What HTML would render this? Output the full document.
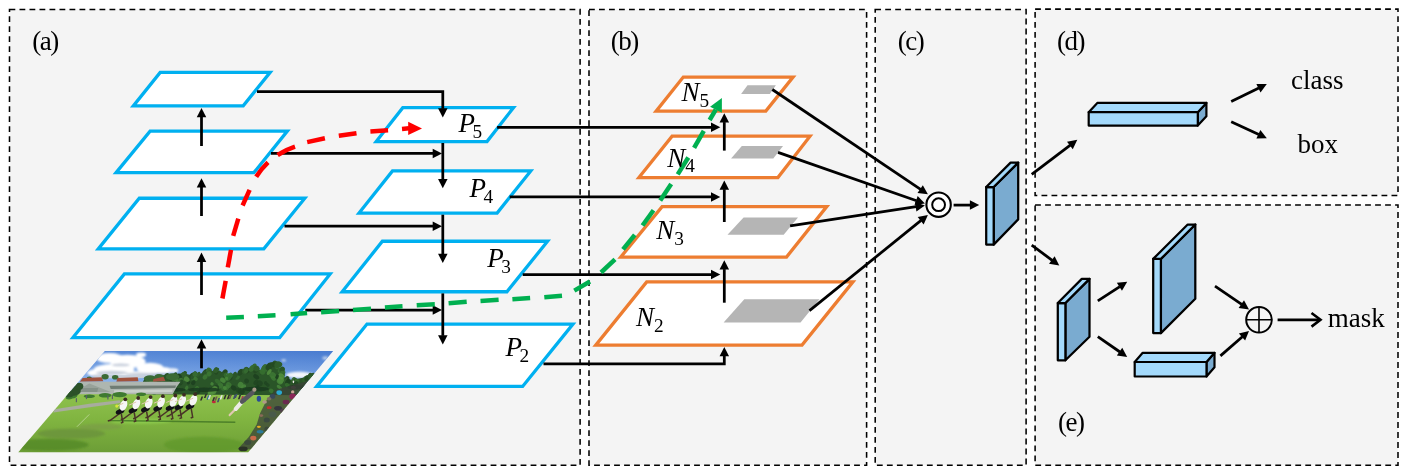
<!DOCTYPE html>
<html><head><meta charset="utf-8"><title>PANet</title>
<style>html,body{margin:0;padding:0;background:#fff}svg{display:block;will-change:transform}text{font-family:"Liberation Serif",serif;fill:#000}</style>
</head><body>
<svg width="1411" height="475" viewBox="0 0 1411 475">
<rect width="1411" height="475" fill="#fff"/>
<rect x="9.5" y="9.5" width="570.6" height="455.7" fill="#f4f4f4" stroke="#000" stroke-width="1.55" stroke-dasharray="5.8 4.2"/>
<rect x="589" y="9.5" width="277.6" height="455.7" fill="#f4f4f4" stroke="#000" stroke-width="1.55" stroke-dasharray="5.8 4.2"/>
<rect x="875.2" y="9.5" width="150.9" height="455.7" fill="#f4f4f4" stroke="#000" stroke-width="1.55" stroke-dasharray="5.8 4.2"/>
<rect x="1035.1" y="9.1" width="362.9" height="186.4" fill="#f4f4f4" stroke="#000" stroke-width="1.55" stroke-dasharray="5.8 4.2"/>
<rect x="1035.1" y="205" width="362.9" height="260.2" fill="#f4f4f4" stroke="#000" stroke-width="1.55" stroke-dasharray="5.8 4.2"/>
<defs><clipPath id="pc"><polygon points="104.9,351 333.1,351 248.2,452.2 18.3,452.2"/></clipPath><linearGradient id="sky" x1="0" y1="0" x2="1" y2="0"><stop offset="0" stop-color="#93bbee"/><stop offset="0.4" stop-color="#6497e0"/><stop offset="1" stop-color="#4f84d6"/></linearGradient><linearGradient id="skyv" x1="0" y1="0" x2="0" y2="1"><stop offset="0" stop-color="#3e6fc8" stop-opacity="0.5"/><stop offset="0.7" stop-color="#a8c8f4" stop-opacity="0.5"/><stop offset="1" stop-color="#c8dcf8" stop-opacity="0.6"/></linearGradient><linearGradient id="grass" x1="0" y1="0" x2="0" y2="1"><stop offset="0" stop-color="#8fc24e"/><stop offset="0.45" stop-color="#80b440"/><stop offset="1" stop-color="#6b9c36"/></linearGradient><filter id="bl" x="-20%" y="-20%" width="140%" height="140%"><feGaussianBlur stdDeviation="1.3"/></filter><filter id="bl2" x="-20%" y="-20%" width="140%" height="140%"><feGaussianBlur stdDeviation="0.55"/></filter></defs>
<g clip-path="url(#pc)">
<rect x="15" y="350" width="325" height="48" fill="url(#sky)"/>
<rect x="15" y="350" width="325" height="48" fill="url(#skyv)"/>
<g filter="url(#bl)" fill="#fff">
<ellipse cx="109.6" cy="358.1" rx="13.5" ry="5.0"/>
<ellipse cx="127.6" cy="361.5" rx="18.0" ry="6.8"/>
<ellipse cx="114.1" cy="369.4" rx="20.3" ry="5.6"/>
<ellipse cx="150.1" cy="368.3" rx="13.5" ry="5.6"/>
<ellipse cx="141.1" cy="354.8" rx="5.0" ry="2.3"/>
<ellipse cx="161.4" cy="370.5" rx="11.3" ry="3.6"/>
<ellipse cx="100.6" cy="372.8" rx="13.5" ry="4.1"/>
<ellipse cx="132.1" cy="373.9" rx="24.8" ry="2.7"/>
<ellipse cx="172.6" cy="370.5" rx="5.6" ry="2.3"/>
<ellipse cx="299.5" cy="375.0" rx="13.5" ry="3.2" fill="#f2f5fb"/>
<ellipse cx="172.3" cy="370.5" rx="4.1" ry="1.8" fill="#e8eef8"/>
<ellipse cx="283.7" cy="360.4" rx="2.3" ry="1.1" fill="#c9d8f0"/>
<ellipse cx="325.4" cy="358.1" rx="3.2" ry="1.8" fill="#b7cbea"/>
</g>
<g filter="url(#bl)">
<ellipse cx="111.8" cy="372.8" rx="15.8" ry="2.0" fill="#b9c2d2" opacity="0.8"/>
<ellipse cx="141.1" cy="374.6" rx="15.8" ry="1.8" fill="#b9c2d2" opacity="0.8"/>
<ellipse cx="159.1" cy="374.6" rx="9.0" ry="1.6" fill="#b9c2d2" opacity="0.8"/>
<ellipse cx="100.6" cy="376.1" rx="9.0" ry="1.6" fill="#b9c2d2" opacity="0.8"/>
<ellipse cx="120.8" cy="364.9" rx="9.0" ry="1.4" fill="#b9c2d2" opacity="0.8"/>
</g>
<ellipse cx="120.8" cy="376.8" rx="28" ry="1.6" fill="#c8d0dc" filter="url(#bl2)"/>
<rect x="15" y="392.5" width="325" height="62" fill="url(#grass)"/>
<polygon points="140.7,394.2 143.0,381.8 149.7,377.7 161.0,375.5 170.0,374.3 183.5,373.2 192.5,375.5 201.5,373.2 210.5,371.4 219.5,370.5 226.3,375.0 237.6,374.1 246.6,370.1 253.3,368.3 260.1,370.1 269.1,366.0 275.8,364.2 280.8,369.4 284.4,377.3 291.6,380.0 302.9,377.7 309.6,375.5 316.4,373.7 316.4,395.3" fill="#2a5528"/>
<ellipse cx="147.3" cy="381.2" rx="2.9" ry="3.2" fill="#2f5d2b" transform="rotate(35 147.3 381.2)"/>
<ellipse cx="146.2" cy="381.0" rx="2.5" ry="3.8" fill="#2a5528" transform="rotate(35 146.2 381.0)"/>
<ellipse cx="147.3" cy="379.9" rx="2.4" ry="4.0" fill="#2a5528" transform="rotate(35 147.3 379.9)"/>
<ellipse cx="156.9" cy="378.0" rx="2.2" ry="3.7" fill="#2f5d2b" transform="rotate(35 156.9 378.0)"/>
<ellipse cx="157.0" cy="379.3" rx="1.7" ry="2.5" fill="#2f5d2b" transform="rotate(35 157.0 379.3)"/>
<ellipse cx="156.9" cy="379.1" rx="2.1" ry="3.5" fill="#2f5d2b" transform="rotate(35 156.9 379.1)"/>
<ellipse cx="165.6" cy="377.4" rx="2.3" ry="3.6" fill="#356a30" transform="rotate(35 165.6 377.4)"/>
<ellipse cx="166.1" cy="376.7" rx="2.4" ry="4.1" fill="#2a5528" transform="rotate(35 166.1 376.7)"/>
<ellipse cx="166.3" cy="376.4" rx="1.9" ry="2.9" fill="#2a5528" transform="rotate(35 166.3 376.4)"/>
<ellipse cx="174.8" cy="374.9" rx="1.8" ry="2.9" fill="#2a5528" transform="rotate(35 174.8 374.9)"/>
<ellipse cx="176.3" cy="377.1" rx="1.6" ry="2.8" fill="#2a5528" transform="rotate(35 176.3 377.1)"/>
<ellipse cx="174.4" cy="377.5" rx="2.2" ry="2.5" fill="#2f5d2b" transform="rotate(35 174.4 377.5)"/>
<ellipse cx="184.6" cy="374.0" rx="1.7" ry="3.0" fill="#356a30" transform="rotate(35 184.6 374.0)"/>
<ellipse cx="184.5" cy="373.6" rx="1.9" ry="2.6" fill="#2a5528" transform="rotate(35 184.5 373.6)"/>
<ellipse cx="183.4" cy="374.7" rx="2.6" ry="2.7" fill="#2f5d2b" transform="rotate(35 183.4 374.7)"/>
<ellipse cx="193.3" cy="377.8" rx="2.2" ry="3.1" fill="#356a30" transform="rotate(35 193.3 377.8)"/>
<ellipse cx="191.1" cy="376.1" rx="2.0" ry="4.1" fill="#244a22" transform="rotate(35 191.1 376.1)"/>
<ellipse cx="193.4" cy="375.6" rx="1.9" ry="4.2" fill="#2a5528" transform="rotate(35 193.4 375.6)"/>
<ellipse cx="195.2" cy="373.6" rx="2.2" ry="2.4" fill="#244a22" transform="rotate(35 195.2 373.6)"/>
<ellipse cx="198.3" cy="374.4" rx="1.7" ry="2.8" fill="#2f5d2b" transform="rotate(35 198.3 374.4)"/>
<ellipse cx="195.1" cy="374.3" rx="2.5" ry="2.6" fill="#356a30" transform="rotate(35 195.1 374.3)"/>
<ellipse cx="205.1" cy="372.3" rx="2.1" ry="3.5" fill="#244a22" transform="rotate(35 205.1 372.3)"/>
<ellipse cx="205.4" cy="374.4" rx="1.9" ry="2.7" fill="#2f5d2b" transform="rotate(35 205.4 374.4)"/>
<ellipse cx="204.5" cy="373.1" rx="2.3" ry="2.5" fill="#2a5528" transform="rotate(35 204.5 373.1)"/>
<ellipse cx="208.9" cy="370.6" rx="2.9" ry="2.8" fill="#356a30" transform="rotate(35 208.9 370.6)"/>
<ellipse cx="209.5" cy="373.0" rx="2.4" ry="2.9" fill="#2f5d2b" transform="rotate(35 209.5 373.0)"/>
<ellipse cx="212.2" cy="373.4" rx="1.8" ry="3.3" fill="#2a5528" transform="rotate(35 212.2 373.4)"/>
<ellipse cx="216.4" cy="372.4" rx="1.9" ry="2.4" fill="#244a22" transform="rotate(35 216.4 372.4)"/>
<ellipse cx="216.9" cy="370.3" rx="1.7" ry="2.9" fill="#2f5d2b" transform="rotate(35 216.9 370.3)"/>
<ellipse cx="215.7" cy="370.0" rx="2.2" ry="3.0" fill="#2f5d2b" transform="rotate(35 215.7 370.0)"/>
<ellipse cx="223.3" cy="375.1" rx="2.3" ry="3.0" fill="#244a22" transform="rotate(35 223.3 375.1)"/>
<ellipse cx="224.8" cy="372.4" rx="2.5" ry="3.3" fill="#244a22" transform="rotate(35 224.8 372.4)"/>
<ellipse cx="222.2" cy="375.3" rx="1.7" ry="3.4" fill="#2a5528" transform="rotate(35 222.2 375.3)"/>
<ellipse cx="230.6" cy="377.2" rx="2.6" ry="3.8" fill="#244a22" transform="rotate(35 230.6 377.2)"/>
<ellipse cx="228.4" cy="377.1" rx="2.9" ry="4.0" fill="#356a30" transform="rotate(35 228.4 377.1)"/>
<ellipse cx="230.8" cy="375.1" rx="2.3" ry="2.4" fill="#356a30" transform="rotate(35 230.8 375.1)"/>
<ellipse cx="234.8" cy="374.1" rx="1.7" ry="2.6" fill="#2a5528" transform="rotate(35 234.8 374.1)"/>
<ellipse cx="237.3" cy="376.7" rx="2.6" ry="3.1" fill="#356a30" transform="rotate(35 237.3 376.7)"/>
<ellipse cx="235.1" cy="376.6" rx="1.7" ry="3.8" fill="#2a5528" transform="rotate(35 235.1 376.6)"/>
<ellipse cx="240.1" cy="372.2" rx="1.6" ry="4.1" fill="#2a5528" transform="rotate(35 240.1 372.2)"/>
<ellipse cx="240.9" cy="373.7" rx="2.9" ry="2.9" fill="#2a5528" transform="rotate(35 240.9 373.7)"/>
<ellipse cx="240.4" cy="372.3" rx="2.5" ry="3.3" fill="#244a22" transform="rotate(35 240.4 372.3)"/>
<ellipse cx="247.2" cy="370.5" rx="2.8" ry="3.0" fill="#244a22" transform="rotate(35 247.2 370.5)"/>
<ellipse cx="245.4" cy="370.5" rx="2.7" ry="4.0" fill="#2f5d2b" transform="rotate(35 245.4 370.5)"/>
<ellipse cx="246.1" cy="370.9" rx="2.0" ry="2.6" fill="#356a30" transform="rotate(35 246.1 370.9)"/>
<ellipse cx="251.6" cy="369.6" rx="1.7" ry="2.5" fill="#244a22" transform="rotate(35 251.6 369.6)"/>
<ellipse cx="253.5" cy="367.2" rx="2.3" ry="4.1" fill="#356a30" transform="rotate(35 253.5 367.2)"/>
<ellipse cx="251.7" cy="368.5" rx="2.5" ry="3.7" fill="#356a30" transform="rotate(35 251.7 368.5)"/>
<ellipse cx="256.0" cy="370.3" rx="2.0" ry="3.5" fill="#244a22" transform="rotate(35 256.0 370.3)"/>
<ellipse cx="257.0" cy="368.7" rx="2.7" ry="2.4" fill="#2f5d2b" transform="rotate(35 257.0 368.7)"/>
<ellipse cx="256.3" cy="368.4" rx="2.7" ry="2.9" fill="#2f5d2b" transform="rotate(35 256.3 368.4)"/>
<ellipse cx="262.4" cy="372.6" rx="1.8" ry="2.6" fill="#244a22" transform="rotate(35 262.4 372.6)"/>
<ellipse cx="263.0" cy="371.7" rx="1.9" ry="3.3" fill="#2f5d2b" transform="rotate(35 263.0 371.7)"/>
<ellipse cx="262.1" cy="371.9" rx="2.3" ry="2.5" fill="#2f5d2b" transform="rotate(35 262.1 371.9)"/>
<ellipse cx="264.8" cy="367.5" rx="2.6" ry="3.3" fill="#2f5d2b" transform="rotate(35 264.8 367.5)"/>
<ellipse cx="265.3" cy="368.9" rx="2.9" ry="2.6" fill="#356a30" transform="rotate(35 265.3 368.9)"/>
<ellipse cx="264.2" cy="367.9" rx="2.5" ry="4.0" fill="#356a30" transform="rotate(35 264.2 367.9)"/>
<ellipse cx="270.4" cy="365.8" rx="2.3" ry="3.9" fill="#244a22" transform="rotate(35 270.4 365.8)"/>
<ellipse cx="270.1" cy="365.8" rx="1.9" ry="3.7" fill="#2a5528" transform="rotate(35 270.1 365.8)"/>
<ellipse cx="269.1" cy="366.5" rx="3.0" ry="4.2" fill="#244a22" transform="rotate(35 269.1 366.5)"/>
<ellipse cx="273.7" cy="364.2" rx="1.6" ry="3.3" fill="#2a5528" transform="rotate(35 273.7 364.2)"/>
<ellipse cx="274.5" cy="363.7" rx="2.7" ry="3.3" fill="#2a5528" transform="rotate(35 274.5 363.7)"/>
<ellipse cx="273.6" cy="364.6" rx="2.2" ry="2.5" fill="#244a22" transform="rotate(35 273.6 364.6)"/>
<ellipse cx="278.3" cy="365.6" rx="2.3" ry="4.2" fill="#356a30" transform="rotate(35 278.3 365.6)"/>
<ellipse cx="279.4" cy="364.4" rx="2.9" ry="2.6" fill="#2f5d2b" transform="rotate(35 279.4 364.4)"/>
<ellipse cx="277.4" cy="364.6" rx="2.8" ry="3.4" fill="#2f5d2b" transform="rotate(35 277.4 364.6)"/>
<ellipse cx="280.4" cy="370.3" rx="2.4" ry="3.0" fill="#356a30" transform="rotate(35 280.4 370.3)"/>
<ellipse cx="282.1" cy="370.4" rx="2.5" ry="2.9" fill="#2f5d2b" transform="rotate(35 282.1 370.4)"/>
<ellipse cx="282.2" cy="369.4" rx="2.4" ry="2.8" fill="#2a5528" transform="rotate(35 282.2 369.4)"/>
<ellipse cx="282.6" cy="374.6" rx="1.6" ry="4.1" fill="#356a30" transform="rotate(35 282.6 374.6)"/>
<ellipse cx="282.8" cy="375.8" rx="1.8" ry="2.6" fill="#2f5d2b" transform="rotate(35 282.8 375.8)"/>
<ellipse cx="280.9" cy="374.4" rx="2.2" ry="4.1" fill="#356a30" transform="rotate(35 280.9 374.4)"/>
<ellipse cx="286.2" cy="379.6" rx="1.8" ry="3.2" fill="#356a30" transform="rotate(35 286.2 379.6)"/>
<ellipse cx="287.2" cy="378.5" rx="2.2" ry="2.5" fill="#244a22" transform="rotate(35 287.2 378.5)"/>
<ellipse cx="285.6" cy="380.5" rx="1.6" ry="2.7" fill="#2f5d2b" transform="rotate(35 285.6 380.5)"/>
<ellipse cx="294.1" cy="380.0" rx="2.6" ry="2.8" fill="#356a30" transform="rotate(35 294.1 380.0)"/>
<ellipse cx="294.5" cy="381.3" rx="1.8" ry="3.3" fill="#244a22" transform="rotate(35 294.5 381.3)"/>
<ellipse cx="297.0" cy="381.2" rx="2.8" ry="2.4" fill="#356a30" transform="rotate(35 297.0 381.2)"/>
<ellipse cx="306.4" cy="378.6" rx="2.4" ry="4.0" fill="#2f5d2b" transform="rotate(35 306.4 378.6)"/>
<ellipse cx="305.2" cy="379.4" rx="2.5" ry="3.9" fill="#2f5d2b" transform="rotate(35 305.2 379.4)"/>
<ellipse cx="306.8" cy="378.7" rx="2.1" ry="2.7" fill="#244a22" transform="rotate(35 306.8 378.7)"/>
<ellipse cx="313.5" cy="375.6" rx="2.7" ry="2.8" fill="#2a5528" transform="rotate(35 313.5 375.6)"/>
<ellipse cx="310.4" cy="375.7" rx="2.6" ry="2.9" fill="#2a5528" transform="rotate(35 310.4 375.7)"/>
<ellipse cx="311.6" cy="377.8" rx="2.4" ry="3.7" fill="#2f5d2b" transform="rotate(35 311.6 377.8)"/>
<ellipse cx="213.3" cy="386.2" rx="1.5" ry="1.9" fill="#2a5528" opacity="0.8" transform="rotate(35 213.3 386.2)"/>
<ellipse cx="205.6" cy="389.4" rx="2.2" ry="2.9" fill="#2a5528" opacity="0.8" transform="rotate(35 205.6 389.4)"/>
<ellipse cx="273.3" cy="378.4" rx="2.9" ry="1.9" fill="#3f7a35" opacity="0.8" transform="rotate(35 273.3 378.4)"/>
<ellipse cx="226.6" cy="375.5" rx="3.0" ry="2.7" fill="#37702f" opacity="0.8" transform="rotate(35 226.6 375.5)"/>
<ellipse cx="226.5" cy="378.5" rx="1.7" ry="1.8" fill="#4a8a3c" opacity="0.8" transform="rotate(35 226.5 378.5)"/>
<ellipse cx="312.5" cy="392.1" rx="1.7" ry="1.6" fill="#2a5528" opacity="0.8" transform="rotate(35 312.5 392.1)"/>
<ellipse cx="223.3" cy="388.5" rx="2.2" ry="2.4" fill="#37702f" opacity="0.8" transform="rotate(35 223.3 388.5)"/>
<ellipse cx="205.1" cy="377.0" rx="2.2" ry="2.8" fill="#3f7a35" opacity="0.8" transform="rotate(35 205.1 377.0)"/>
<ellipse cx="287.8" cy="381.8" rx="2.4" ry="3.0" fill="#1c3d1e" opacity="0.8" transform="rotate(35 287.8 381.8)"/>
<ellipse cx="300.9" cy="387.5" rx="1.7" ry="3.1" fill="#1f4420" opacity="0.8" transform="rotate(35 300.9 387.5)"/>
<ellipse cx="296.1" cy="390.5" rx="2.9" ry="3.2" fill="#2a5528" opacity="0.8" transform="rotate(35 296.1 390.5)"/>
<ellipse cx="303.9" cy="386.7" rx="1.9" ry="2.7" fill="#1f4420" opacity="0.8" transform="rotate(35 303.9 386.7)"/>
<ellipse cx="281.1" cy="376.5" rx="3.3" ry="3.0" fill="#54923f" opacity="0.8" transform="rotate(35 281.1 376.5)"/>
<ellipse cx="172.3" cy="391.9" rx="1.8" ry="2.2" fill="#37702f" opacity="0.8" transform="rotate(35 172.3 391.9)"/>
<ellipse cx="262.6" cy="387.6" rx="3.0" ry="2.3" fill="#2a5528" opacity="0.8" transform="rotate(35 262.6 387.6)"/>
<ellipse cx="176.4" cy="389.5" rx="2.1" ry="1.7" fill="#1f4420" opacity="0.8" transform="rotate(35 176.4 389.5)"/>
<ellipse cx="312.5" cy="391.8" rx="1.6" ry="2.0" fill="#2a5528" opacity="0.8" transform="rotate(35 312.5 391.8)"/>
<ellipse cx="195.7" cy="378.8" rx="2.3" ry="1.9" fill="#3f7a35" opacity="0.8" transform="rotate(35 195.7 378.8)"/>
<ellipse cx="211.0" cy="393.0" rx="2.8" ry="2.9" fill="#54923f" opacity="0.8" transform="rotate(35 211.0 393.0)"/>
<ellipse cx="212.0" cy="383.9" rx="1.7" ry="1.7" fill="#4a8a3c" opacity="0.8" transform="rotate(35 212.0 383.9)"/>
<ellipse cx="188.6" cy="382.7" rx="1.6" ry="1.9" fill="#1c3d1e" opacity="0.8" transform="rotate(35 188.6 382.7)"/>
<ellipse cx="147.1" cy="383.9" rx="2.1" ry="2.2" fill="#37702f" opacity="0.8" transform="rotate(35 147.1 383.9)"/>
<ellipse cx="231.0" cy="392.5" rx="2.6" ry="3.5" fill="#2a5528" opacity="0.8" transform="rotate(35 231.0 392.5)"/>
<ellipse cx="220.3" cy="385.6" rx="2.6" ry="2.8" fill="#3f7a35" opacity="0.8" transform="rotate(35 220.3 385.6)"/>
<ellipse cx="210.5" cy="391.7" rx="2.3" ry="3.4" fill="#54923f" opacity="0.8" transform="rotate(35 210.5 391.7)"/>
<ellipse cx="228.9" cy="386.5" rx="1.6" ry="3.4" fill="#1c3d1e" opacity="0.8" transform="rotate(35 228.9 386.5)"/>
<ellipse cx="193.3" cy="382.7" rx="2.1" ry="2.6" fill="#1c3d1e" opacity="0.8" transform="rotate(35 193.3 382.7)"/>
<ellipse cx="255.9" cy="382.4" rx="2.1" ry="2.9" fill="#1f4420" opacity="0.8" transform="rotate(35 255.9 382.4)"/>
<ellipse cx="149.8" cy="390.1" rx="2.7" ry="2.8" fill="#1c3d1e" opacity="0.8" transform="rotate(35 149.8 390.1)"/>
<ellipse cx="272.7" cy="375.3" rx="3.3" ry="3.0" fill="#3f7a35" opacity="0.8" transform="rotate(35 272.7 375.3)"/>
<ellipse cx="243.5" cy="387.1" rx="2.1" ry="3.1" fill="#4a8a3c" opacity="0.8" transform="rotate(35 243.5 387.1)"/>
<ellipse cx="217.8" cy="381.5" rx="3.4" ry="2.0" fill="#37702f" opacity="0.8" transform="rotate(35 217.8 381.5)"/>
<ellipse cx="161.9" cy="390.0" rx="3.3" ry="1.8" fill="#54923f" opacity="0.8" transform="rotate(35 161.9 390.0)"/>
<ellipse cx="186.6" cy="387.8" rx="1.6" ry="2.3" fill="#3f7a35" opacity="0.8" transform="rotate(35 186.6 387.8)"/>
<ellipse cx="179.6" cy="375.9" rx="2.6" ry="1.7" fill="#1c3d1e" opacity="0.8" transform="rotate(35 179.6 375.9)"/>
<ellipse cx="168.8" cy="383.3" rx="2.7" ry="2.8" fill="#2a5528" opacity="0.8" transform="rotate(35 168.8 383.3)"/>
<ellipse cx="216.1" cy="388.1" rx="2.6" ry="3.5" fill="#1f4420" opacity="0.8" transform="rotate(35 216.1 388.1)"/>
<ellipse cx="269.2" cy="372.0" rx="1.7" ry="3.3" fill="#54923f" opacity="0.8" transform="rotate(35 269.2 372.0)"/>
<ellipse cx="230.9" cy="390.4" rx="2.0" ry="2.7" fill="#2a5528" opacity="0.8" transform="rotate(35 230.9 390.4)"/>
<ellipse cx="240.6" cy="384.9" rx="2.8" ry="3.0" fill="#4a8a3c" opacity="0.8" transform="rotate(35 240.6 384.9)"/>
<ellipse cx="306.0" cy="385.4" rx="2.8" ry="1.9" fill="#2a5528" opacity="0.8" transform="rotate(35 306.0 385.4)"/>
<ellipse cx="151.9" cy="380.2" rx="2.0" ry="2.4" fill="#37702f" opacity="0.8" transform="rotate(35 151.9 380.2)"/>
<ellipse cx="151.7" cy="382.4" rx="2.1" ry="3.0" fill="#2a5528" opacity="0.8" transform="rotate(35 151.7 382.4)"/>
<ellipse cx="172.4" cy="379.9" rx="3.5" ry="2.5" fill="#1f4420" opacity="0.8" transform="rotate(35 172.4 379.9)"/>
<ellipse cx="180.8" cy="381.0" rx="3.0" ry="3.2" fill="#3f7a35" opacity="0.8" transform="rotate(35 180.8 381.0)"/>
<ellipse cx="280.7" cy="380.2" rx="3.1" ry="3.2" fill="#54923f" opacity="0.8" transform="rotate(35 280.7 380.2)"/>
<ellipse cx="181.2" cy="382.5" rx="2.0" ry="3.1" fill="#1f4420" opacity="0.8" transform="rotate(35 181.2 382.5)"/>
<ellipse cx="171.1" cy="390.3" rx="2.7" ry="2.1" fill="#54923f" opacity="0.8" transform="rotate(35 171.1 390.3)"/>
<ellipse cx="271.2" cy="390.8" rx="2.4" ry="2.2" fill="#3f7a35" opacity="0.8" transform="rotate(35 271.2 390.8)"/>
<ellipse cx="223.3" cy="379.9" rx="2.6" ry="2.4" fill="#37702f" opacity="0.8" transform="rotate(35 223.3 379.9)"/>
<ellipse cx="227.1" cy="387.5" rx="2.1" ry="3.1" fill="#3f7a35" opacity="0.8" transform="rotate(35 227.1 387.5)"/>
<ellipse cx="197.6" cy="391.4" rx="2.7" ry="2.9" fill="#1c3d1e" opacity="0.8" transform="rotate(35 197.6 391.4)"/>
<ellipse cx="267.7" cy="384.9" rx="2.1" ry="1.8" fill="#1f4420" opacity="0.8" transform="rotate(35 267.7 384.9)"/>
<ellipse cx="256.2" cy="376.8" rx="3.3" ry="2.1" fill="#1c3d1e" opacity="0.8" transform="rotate(35 256.2 376.8)"/>
<ellipse cx="241.4" cy="391.4" rx="3.4" ry="3.3" fill="#1c3d1e" opacity="0.8" transform="rotate(35 241.4 391.4)"/>
<ellipse cx="234.8" cy="392.9" rx="2.4" ry="1.9" fill="#2a5528" opacity="0.8" transform="rotate(35 234.8 392.9)"/>
<ellipse cx="296.3" cy="383.3" rx="2.2" ry="2.2" fill="#1f4420" opacity="0.8" transform="rotate(35 296.3 383.3)"/>
<ellipse cx="259.6" cy="383.5" rx="3.1" ry="3.0" fill="#1f4420" opacity="0.8" transform="rotate(35 259.6 383.5)"/>
<ellipse cx="279.8" cy="381.6" rx="3.2" ry="2.6" fill="#4a8a3c" opacity="0.8" transform="rotate(35 279.8 381.6)"/>
<ellipse cx="160.4" cy="384.5" rx="3.2" ry="3.1" fill="#4a8a3c" opacity="0.8" transform="rotate(35 160.4 384.5)"/>
<ellipse cx="232.3" cy="385.1" rx="2.6" ry="3.4" fill="#2a5528" opacity="0.8" transform="rotate(35 232.3 385.1)"/>
<ellipse cx="287.4" cy="385.1" rx="2.7" ry="2.1" fill="#37702f" opacity="0.8" transform="rotate(35 287.4 385.1)"/>
<ellipse cx="159.4" cy="378.8" rx="3.0" ry="3.3" fill="#3f7a35" opacity="0.8" transform="rotate(35 159.4 378.8)"/>
<ellipse cx="149.6" cy="388.5" rx="1.7" ry="3.1" fill="#1c3d1e" opacity="0.8" transform="rotate(35 149.6 388.5)"/>
<ellipse cx="186.7" cy="379.2" rx="3.0" ry="2.5" fill="#54923f" opacity="0.8" transform="rotate(35 186.7 379.2)"/>
<ellipse cx="222.8" cy="380.3" rx="3.1" ry="2.2" fill="#4a8a3c" opacity="0.8" transform="rotate(35 222.8 380.3)"/>
<ellipse cx="228.6" cy="385.1" rx="2.9" ry="2.9" fill="#3f7a35" opacity="0.8" transform="rotate(35 228.6 385.1)"/>
<ellipse cx="214.6" cy="389.2" rx="2.8" ry="3.2" fill="#54923f" opacity="0.8" transform="rotate(35 214.6 389.2)"/>
<ellipse cx="209.1" cy="373.8" rx="2.4" ry="2.6" fill="#3f7a35" opacity="0.8" transform="rotate(35 209.1 373.8)"/>
<ellipse cx="233.7" cy="387.9" rx="3.1" ry="2.3" fill="#1c3d1e" opacity="0.8" transform="rotate(35 233.7 387.9)"/>
<ellipse cx="299.9" cy="382.6" rx="1.8" ry="2.8" fill="#2a5528" opacity="0.8" transform="rotate(35 299.9 382.6)"/>
<ellipse cx="173.5" cy="379.3" rx="2.3" ry="2.1" fill="#3f7a35" opacity="0.8" transform="rotate(35 173.5 379.3)"/>
<ellipse cx="224.8" cy="388.0" rx="2.1" ry="1.8" fill="#4a8a3c" opacity="0.8" transform="rotate(35 224.8 388.0)"/>
<ellipse cx="299.3" cy="389.7" rx="1.5" ry="2.5" fill="#54923f" opacity="0.8" transform="rotate(35 299.3 389.7)"/>
<ellipse cx="151.4" cy="381.0" rx="1.9" ry="1.9" fill="#4a8a3c" opacity="0.8" transform="rotate(35 151.4 381.0)"/>
<ellipse cx="246.6" cy="381.0" rx="2.5" ry="2.4" fill="#1f4420" opacity="0.8" transform="rotate(35 246.6 381.0)"/>
<ellipse cx="213.2" cy="391.1" rx="3.4" ry="2.8" fill="#54923f" opacity="0.8" transform="rotate(35 213.2 391.1)"/>
<ellipse cx="238.2" cy="390.3" rx="2.5" ry="2.3" fill="#1f4420" opacity="0.8" transform="rotate(35 238.2 390.3)"/>
<ellipse cx="256.7" cy="387.5" rx="1.7" ry="3.2" fill="#1c3d1e" opacity="0.8" transform="rotate(35 256.7 387.5)"/>
<ellipse cx="153.6" cy="392.3" rx="3.1" ry="2.3" fill="#37702f" opacity="0.8" transform="rotate(35 153.6 392.3)"/>
<ellipse cx="279.4" cy="387.2" rx="3.1" ry="1.6" fill="#4a8a3c" opacity="0.8" transform="rotate(35 279.4 387.2)"/>
<ellipse cx="295.9" cy="391.4" rx="3.3" ry="2.4" fill="#4a8a3c" opacity="0.8" transform="rotate(35 295.9 391.4)"/>
<ellipse cx="265.7" cy="383.0" rx="1.8" ry="1.8" fill="#1f4420" opacity="0.8" transform="rotate(35 265.7 383.0)"/>
<ellipse cx="169.7" cy="391.5" rx="3.1" ry="1.8" fill="#2a5528" opacity="0.8" transform="rotate(35 169.7 391.5)"/>
<ellipse cx="312.9" cy="384.0" rx="2.6" ry="1.8" fill="#54923f" opacity="0.8" transform="rotate(35 312.9 384.0)"/>
<ellipse cx="175.3" cy="379.1" rx="3.3" ry="1.8" fill="#4a8a3c" opacity="0.8" transform="rotate(35 175.3 379.1)"/>
<ellipse cx="159.2" cy="381.7" rx="2.9" ry="1.7" fill="#1c3d1e" opacity="0.8" transform="rotate(35 159.2 381.7)"/>
<ellipse cx="262.4" cy="371.8" rx="3.0" ry="2.6" fill="#37702f" opacity="0.8" transform="rotate(35 262.4 371.8)"/>
<ellipse cx="196.5" cy="389.1" rx="2.3" ry="3.3" fill="#3f7a35" opacity="0.8" transform="rotate(35 196.5 389.1)"/>
<ellipse cx="277.2" cy="376.7" rx="1.6" ry="2.3" fill="#1c3d1e" opacity="0.8" transform="rotate(35 277.2 376.7)"/>
<g filter="url(#bl2)">
<ellipse cx="203.8" cy="389.7" rx="15.8" ry="2.3" fill="#1a3a1c" opacity="0.85"/>
<ellipse cx="255.6" cy="389.0" rx="13.5" ry="2.3" fill="#1a3a1c" opacity="0.85"/>
<ellipse cx="174.5" cy="389.7" rx="11.3" ry="2.0" fill="#1a3a1c" opacity="0.85"/>
<ellipse cx="152.0" cy="389.7" rx="9.0" ry="2.0" fill="#1a3a1c" opacity="0.85"/>
<ellipse cx="296.1" cy="387.4" rx="9.0" ry="2.3" fill="#1a3a1c" opacity="0.85"/>
</g>
<ellipse cx="105.1" cy="376.8" rx="3.6" ry="2.7" fill="#3a6a34"/>
<ellipse cx="115.2" cy="377.3" rx="3.2" ry="2.3" fill="#3a6a34"/>
<ellipse cx="89.3" cy="378.4" rx="2.7" ry="1.8" fill="#3a6a34"/>
<ellipse cx="150.1" cy="378.4" rx="6.3" ry="3.2" fill="#3a6a34"/>
<ellipse cx="159.1" cy="376.8" rx="4.5" ry="2.7" fill="#3a6a34"/>
<ellipse cx="172.6" cy="376.8" rx="6.8" ry="3.6" fill="#3a6a34"/>
<polygon points="82.6,377.9 101.7,377.3 103.3,381.3 79.9,381.8" fill="#a0523e"/>
<polygon points="117.5,377.9 137.7,377.3 138.4,381.3 116.3,381.8" fill="#a0523e"/>
<polygon points="153.5,379.1 163.6,376.8 165.4,380.9 152.8,381.8" fill="#a0523e"/>
<polygon points="72.4,394.2 80.8,381.8 180.5,381.8 177.1,386.3 172.6,394.2" fill="#aeb6b0"/>
<polygon points="74.7,391.9 89.3,383.6 110.7,391.9" fill="#98a29a"/>
<polygon points="109.6,385.8 176.0,385.4 175.3,388.1 110.7,389.0" fill="#6f7c74"/>
<polygon points="114.1,390.3 172.6,389.4 172.2,392.1 114.1,393.0" fill="#c9cfca"/>
<polygon points="82.6,388.1 98.3,388.1 97.2,392.1 80.3,392.1" fill="#7d8a80" opacity="0.7"/>
<ellipse cx="105.1" cy="395.3" rx="6.3" ry="2.3" fill="#3e7a30"/>
<ellipse cx="119.7" cy="394.6" rx="7.2" ry="2.7" fill="#3e7a30"/>
<ellipse cx="89.3" cy="396.2" rx="5.6" ry="1.8" fill="#3e7a30"/>
<ellipse cx="72.4" cy="395.3" rx="5.0" ry="3.2" fill="#3e7a30"/>
<ellipse cx="141.1" cy="394.2" rx="5.0" ry="1.8" fill="#3e7a30"/>
<ellipse cx="69.0" cy="398.0" rx="3.2" ry="1.4" fill="#3e7a30"/>
<ellipse cx="74.0" cy="390.8" rx="6.8" ry="5.0" fill="#2c5228"/>
<ellipse cx="69.0" cy="394.2" rx="5.0" ry="3.2" fill="#2c5228"/>
<ellipse cx="79.2" cy="386.3" rx="4.1" ry="3.6" fill="#2c5228"/>
<polygon points="54.4,409.2 89.3,403.8 119.7,400.2 120.8,402.9 91.6,407.0 53.3,412.4" fill="#a8ac9e" filter="url(#bl2)"/>
<rect x="75.8" y="398.2" width="1.2" height="4" fill="#59616a"/>
<rect x="85.9" y="395.1" width="1.2" height="4" fill="#59616a"/>
<rect x="107.3" y="395.5" width="1.2" height="4" fill="#59616a"/>
<rect x="111.8" y="395.1" width="1.2" height="4" fill="#59616a"/>
<g filter="url(#bl)">
<ellipse cx="71.3" cy="433.6" rx="34" ry="5" fill="#6a8f3a" opacity="0.7"/>
<ellipse cx="100.6" cy="426.8" rx="22" ry="3" fill="#7a9a48" opacity="0.6"/>
<ellipse cx="48.8" cy="444.8" rx="40" ry="6" fill="#4f8424" opacity="0.7"/>
<ellipse cx="141.1" cy="421.2" rx="30" ry="2.5" fill="#8fcf50" opacity="0.8"/>
<ellipse cx="203.8" cy="444.8" rx="40" ry="8" fill="#5a9428" opacity="0.6"/>
</g>
<path d="M109.6,420.5 L235.3,422.3" stroke="#3c6f22" stroke-width="1.5" opacity="0.75" filter="url(#bl2)"/>
<path d="M76.9,426.8 L89.3,414.4" stroke="#dfe8c8" stroke-width="0.7" opacity="0.8"/>
<rect x="201.5" y="396.4" width="1.7" height="4.2" fill="#303030" transform="skewX(-20)" transform-origin="201.5 396.4"/>
<rect x="205.4" y="393.9" width="1.7" height="4.2" fill="#303030" transform="skewX(-20)" transform-origin="205.4 393.9"/>
<rect x="208.1" y="395.5" width="1.7" height="4.2" fill="#2e6f9a" transform="skewX(-20)" transform-origin="208.1 395.5"/>
<rect x="209.4" y="395.1" width="1.7" height="4.2" fill="#d9d9d9" transform="skewX(-20)" transform-origin="209.4 395.1"/>
<rect x="213.5" y="397.3" width="1.7" height="4.2" fill="#303030" transform="skewX(-20)" transform-origin="213.5 397.3"/>
<rect x="215.9" y="396.6" width="1.7" height="4.2" fill="#6f5a48" transform="skewX(-20)" transform-origin="215.9 396.6"/>
<rect x="218.4" y="398.0" width="1.7" height="4.2" fill="#40506a" transform="skewX(-20)" transform-origin="218.4 398.0"/>
<rect x="221.1" y="395.3" width="1.7" height="4.2" fill="#e8e8e8" transform="skewX(-20)" transform-origin="221.1 395.3"/>
<rect x="224.9" y="395.1" width="1.7" height="4.2" fill="#303030" transform="skewX(-20)" transform-origin="224.9 395.1"/>
<rect x="228.3" y="395.1" width="1.7" height="4.2" fill="#303030" transform="skewX(-20)" transform-origin="228.3 395.1"/>
<rect x="230.1" y="394.8" width="1.7" height="4.2" fill="#6f5a48" transform="skewX(-20)" transform-origin="230.1 394.8"/>
<rect x="234.4" y="394.8" width="1.7" height="4.2" fill="#40506a" transform="skewX(-20)" transform-origin="234.4 394.8"/>
<rect x="235.8" y="393.9" width="1.7" height="4.2" fill="#40506a" transform="skewX(-20)" transform-origin="235.8 393.9"/>
<rect x="239.4" y="395.1" width="1.7" height="4.2" fill="#303030" transform="skewX(-20)" transform-origin="239.4 395.1"/>
<rect x="242.1" y="396.0" width="1.7" height="4.2" fill="#b04050" transform="skewX(-20)" transform-origin="242.1 396.0"/>
<rect x="245.2" y="397.8" width="1.7" height="4.2" fill="#2e6f9a" transform="skewX(-20)" transform-origin="245.2 397.8"/>
<ellipse cx="213.9" cy="402.0" rx="2" ry="1.3" fill="#c0283a"/>
<path d="M119.8,413.3 L110.3,420.3 l-2.5,0.6 M121.3,413.8 L122.8,422.3 l-2,0.8" stroke="#4a3428" stroke-width="1.5" fill="none"/>
<ellipse cx="120.1" cy="411.5" rx="4.6" ry="2.5" fill="#121216" transform="rotate(-22 120.1 411.5)"/>
<ellipse cx="123.5" cy="405.3" rx="3.5" ry="5.6" fill="#f6f6f6" transform="rotate(22 123.5 405.3)"/>
<path d="M123.3,403.3 L116.3,406.3" stroke="#e0c8b0" stroke-width="1" />
<circle cx="125.3" cy="399.3" r="1.9" fill="#3c2a22"/>
<path d="M132.7,412.0 L123.19999999999999,419.0 l-2.5,0.6 M134.2,412.5 L135.7,421.0 l-2,0.8" stroke="#4a3428" stroke-width="1.5" fill="none"/>
<ellipse cx="133.0" cy="410.2" rx="4.6" ry="2.5" fill="#121216" transform="rotate(-22 133.0 410.2)"/>
<ellipse cx="136.39999999999998" cy="404.0" rx="3.5" ry="5.6" fill="#f6f6f6" transform="rotate(22 136.39999999999998 404.0)"/>
<path d="M136.2,402.0 L129.2,405.0" stroke="#e0c8b0" stroke-width="1" />
<circle cx="138.2" cy="398.0" r="1.9" fill="#3c2a22"/>
<path d="M145.1,411.1 L135.6,418.1 l-2.5,0.6 M146.6,411.6 L148.1,420.1 l-2,0.8" stroke="#4a3428" stroke-width="1.5" fill="none"/>
<ellipse cx="145.4" cy="409.3" rx="4.6" ry="2.5" fill="#121216" transform="rotate(-22 145.4 409.3)"/>
<ellipse cx="148.79999999999998" cy="403.1" rx="3.5" ry="5.6" fill="#f6f6f6" transform="rotate(22 148.79999999999998 403.1)"/>
<path d="M148.6,401.1 L141.6,404.1" stroke="#e0c8b0" stroke-width="1" />
<circle cx="150.6" cy="397.1" r="1.9" fill="#3c2a22"/>
<path d="M157.4,410.2 L147.9,417.2 l-2.5,0.6 M158.9,410.7 L160.4,419.2 l-2,0.8" stroke="#4a3428" stroke-width="1.5" fill="none"/>
<ellipse cx="157.70000000000002" cy="408.4" rx="4.6" ry="2.5" fill="#121216" transform="rotate(-22 157.70000000000002 408.4)"/>
<ellipse cx="161.1" cy="402.2" rx="3.5" ry="5.6" fill="#f6f6f6" transform="rotate(22 161.1 402.2)"/>
<path d="M160.9,400.2 L153.9,403.2" stroke="#e0c8b0" stroke-width="1" />
<circle cx="162.9" cy="396.2" r="1.9" fill="#3c2a22"/>
<path d="M169.8,409.5 L160.3,416.5 l-2.5,0.6 M171.3,410.0 L172.8,418.5 l-2,0.8" stroke="#4a3428" stroke-width="1.5" fill="none"/>
<ellipse cx="170.10000000000002" cy="407.7" rx="4.6" ry="2.5" fill="#121216" transform="rotate(-22 170.10000000000002 407.7)"/>
<ellipse cx="173.5" cy="401.5" rx="3.5" ry="5.6" fill="#f6f6f6" transform="rotate(22 173.5 401.5)"/>
<path d="M173.3,399.5 L166.3,402.5" stroke="#e0c8b0" stroke-width="1" />
<circle cx="175.3" cy="395.5" r="1.9" fill="#3c2a22"/>
<path d="M178.5,408.8 L169.0,415.8 l-2.5,0.6 M180.0,409.3 L181.5,417.8 l-2,0.8" stroke="#4a3428" stroke-width="1.5" fill="none"/>
<ellipse cx="178.8" cy="407.0" rx="4.6" ry="2.5" fill="#121216" transform="rotate(-22 178.8 407.0)"/>
<ellipse cx="182.2" cy="400.8" rx="3.5" ry="5.6" fill="#f6f6f6" transform="rotate(22 182.2 400.8)"/>
<path d="M182.0,398.8 L175.0,401.8" stroke="#e0c8b0" stroke-width="1" />
<circle cx="184.0" cy="394.8" r="1.9" fill="#3c2a22"/>
<path d="M189.7,408.2 L180.2,415.2 l-2.5,0.6 M191.2,408.7 L192.7,417.2 l-2,0.8" stroke="#4a3428" stroke-width="1.5" fill="none"/>
<ellipse cx="190.0" cy="406.4" rx="4.6" ry="2.5" fill="#121216" transform="rotate(-22 190.0 406.4)"/>
<ellipse cx="193.39999999999998" cy="400.2" rx="3.5" ry="5.6" fill="#f6f6f6" transform="rotate(22 193.39999999999998 400.2)"/>
<path d="M193.2,398.2 L186.2,401.2" stroke="#e0c8b0" stroke-width="1" />
<circle cx="195.2" cy="394.2" r="1.9" fill="#3c2a22"/>
<circle cx="116.8" cy="406.1" r="1.6" fill="#d8e838"/>
<path d="M235.8,408.8 L229.7,415.1" stroke="#e0c8b0" stroke-width="2.2" stroke-linecap="round"/>
<path d="M242.1,401.6 L235.8,408.8" stroke="#ecece6" stroke-width="4.2" stroke-linecap="round"/>
<path d="M252.4,392.7 L242.1,401.6" stroke="#55555c" stroke-width="4.6" stroke-linecap="round"/>
<circle cx="254.4" cy="389.7" r="2.1" fill="#a89888"/>
<ellipse cx="258.9" cy="398.7" rx="2.2" ry="3" fill="#2a4a98"/>
<polygon points="305.1,381.8 275.8,389.7 266.8,399.8 260.1,413.3 256.7,424.6 248.8,436.9 237.6,449.3 255.6,449.3 316.4,377.3" fill="#3a4238" opacity="0.75" filter="url(#bl2)"/>
<g filter="url(#bl2)">
<ellipse cx="279.2" cy="392.6" rx="2.8" ry="2.3" fill="#2aa8d0"/>
<ellipse cx="272.5" cy="396.4" rx="2.8" ry="2.3" fill="#38485a"/>
<ellipse cx="292.7" cy="391.9" rx="1.7" ry="1.7" fill="#c8a494"/>
<ellipse cx="292.7" cy="396.4" rx="3.4" ry="2.8" fill="#8a2858"/>
<ellipse cx="286.0" cy="402.0" rx="3.4" ry="2.3" fill="#6a2c50"/>
<ellipse cx="269.1" cy="407.7" rx="2.5" ry="1.4" fill="#c42c2c"/>
<ellipse cx="278.1" cy="408.3" rx="3.9" ry="2.3" fill="#34343e"/>
<ellipse cx="264.6" cy="402.0" rx="2.3" ry="1.7" fill="#b09888"/>
<ellipse cx="269.1" cy="398.7" rx="2.3" ry="1.7" fill="#787060"/>
<ellipse cx="272.5" cy="414.4" rx="3.9" ry="2.8" fill="#4a5a48"/>
<ellipse cx="266.8" cy="420.1" rx="3.1" ry="2.5" fill="#3a4a40"/>
<ellipse cx="261.2" cy="415.6" rx="2.0" ry="1.4" fill="#8a6a58"/>
<ellipse cx="258.9" cy="426.8" rx="2.0" ry="1.1" fill="#e8b020"/>
<ellipse cx="260.1" cy="431.8" rx="3.4" ry="1.7" fill="#2a7a9a"/>
<ellipse cx="253.3" cy="438.1" rx="3.1" ry="2.3" fill="#c86a4a"/>
<ellipse cx="247.7" cy="442.6" rx="3.4" ry="2.5" fill="#3a4a3a"/>
<ellipse cx="243.2" cy="448.9" rx="4.5" ry="2.3" fill="#2a3228"/>
<ellipse cx="293.4" cy="381.8" rx="0.8" ry="1.4" fill="#f0ece8"/>
<ellipse cx="293.4" cy="387.4" rx="2.5" ry="1.7" fill="#40403a"/>
<ellipse cx="282.6" cy="411.0" rx="2.5" ry="2.5" fill="#50404a"/>
<ellipse cx="275.8" cy="422.3" rx="2.5" ry="2.5" fill="#506848"/>
<ellipse cx="266.8" cy="429.1" rx="2.5" ry="2.5" fill="#3c4a3a"/>
</g>
</g>
<polygon points="160.19,72.35 270.16,72.35 243.21,105.85 133.34,105.85" fill="#fff" stroke="#00b0f0" stroke-width="3.3" stroke-linejoin="miter"/>
<polygon points="150.09,131.15 287.33,131.15 253.91,172.65 116.07,172.65" fill="#fff" stroke="#00b0f0" stroke-width="3.3" stroke-linejoin="miter"/>
<polygon points="139.29,198.25 304.84,198.25 263.81,248.85 98.26,248.85" fill="#fff" stroke="#00b0f0" stroke-width="3.3" stroke-linejoin="miter"/>
<polygon points="124.39,273.95 330.16,273.95 279.71,337.55 72.94,337.55" fill="#fff" stroke="#00b0f0" stroke-width="3.3" stroke-linejoin="miter"/>
<polygon points="402.80,107.65 513.51,107.65 487.00,141.55 376.19,141.55" fill="#fff" stroke="#00b0f0" stroke-width="3.3" stroke-linejoin="miter"/>
<polygon points="392.49,170.95 530.77,170.95 497.11,213.05 359.03,213.05" fill="#fff" stroke="#00b0f0" stroke-width="3.3" stroke-linejoin="miter"/>
<polygon points="382.39,241.25 547.56,241.25 506.91,291.75 342.14,291.75" fill="#fff" stroke="#00b0f0" stroke-width="3.3" stroke-linejoin="miter"/>
<polygon points="366.99,324.05 572.95,324.05 522.61,386.45 316.65,386.45" fill="#fff" stroke="#00b0f0" stroke-width="3.3" stroke-linejoin="miter"/>
<polygon points="683.29,77.05 793.07,77.05 765.81,111.15 656.13,111.15" fill="#fff" stroke="#ed7d31" stroke-width="3.3" stroke-linejoin="miter"/>
<polygon points="672.10,136.15 810.00,136.15 777.90,177.55 638.90,177.55" fill="#fff" stroke="#ed7d31" stroke-width="3.3" stroke-linejoin="miter"/>
<polygon points="662.09,206.65 826.74,206.65 786.51,257.05 620.76,257.05" fill="#fff" stroke="#ed7d31" stroke-width="3.3" stroke-linejoin="miter"/>
<polygon points="646.69,281.85 852.95,281.85 802.01,345.15 595.75,345.15" fill="#fff" stroke="#ed7d31" stroke-width="3.3" stroke-linejoin="miter"/>
<polygon points="747.5,85.3 775.9,85.3 769.8,93.9 741.1,93.9" fill="#b5b5b5"/>
<polygon points="741.8,145.9 783,145.9 773.3,158.5 731.1,158.5" fill="#b5b5b5"/>
<polygon points="743.6,217.6 798,217.6 783.7,234.7 727.5,234.7" fill="#b5b5b5"/>
<polygon points="744.3,299.2 819.5,299.2 800.5,322.4 723.6,322.4" fill="#b5b5b5"/>
<path d="M201.50,146.00 L201.50,116.80" fill="none" stroke="#000" stroke-width="2.75" stroke-linejoin="miter"/>
<polygon points="201.50,108.00 206.25,117.30 196.75,117.30" fill="#000"/>
<path d="M201.50,216.00 L201.50,187.00" fill="none" stroke="#000" stroke-width="2.75" stroke-linejoin="miter"/>
<polygon points="201.50,178.20 206.25,187.50 196.75,187.50" fill="#000"/>
<path d="M201.50,295.00 L201.50,261.40" fill="none" stroke="#000" stroke-width="2.75" stroke-linejoin="miter"/>
<polygon points="201.50,252.60 206.25,261.90 196.75,261.90" fill="#000"/>
<path d="M201.50,368.30 L201.50,348.10" fill="none" stroke="#000" stroke-width="2.75" stroke-linejoin="miter"/>
<polygon points="201.50,339.30 206.25,348.60 196.75,348.60" fill="#000"/>
<path d="M257.00,91.50 L442.80,91.50 L442.80,108.70" fill="none" stroke="#000" stroke-width="2.75" stroke-linejoin="miter"/>
<polygon points="442.80,117.50 438.05,108.20 447.55,108.20" fill="#000"/>
<path d="M271.00,153.40 L433.20,153.40" fill="none" stroke="#000" stroke-width="2.75" stroke-linejoin="miter"/>
<polygon points="442.00,153.40 432.70,158.15 432.70,148.65" fill="#000"/>
<path d="M284.50,226.20 L433.20,226.20" fill="none" stroke="#000" stroke-width="2.75" stroke-linejoin="miter"/>
<polygon points="442.00,226.20 432.70,230.95 432.70,221.45" fill="#000"/>
<path d="M305.30,310.10 L433.20,310.10" fill="none" stroke="#000" stroke-width="2.75" stroke-linejoin="miter"/>
<polygon points="442.00,310.10 432.70,314.85 432.70,305.35" fill="#000"/>
<path d="M442.80,143.00 L442.80,179.40" fill="none" stroke="#000" stroke-width="2.75" stroke-linejoin="miter"/>
<polygon points="442.80,188.20 438.05,178.90 447.55,178.90" fill="#000"/>
<path d="M442.80,214.70 L442.80,254.30" fill="none" stroke="#000" stroke-width="2.75" stroke-linejoin="miter"/>
<polygon points="442.80,263.10 438.05,253.80 447.55,253.80" fill="#000"/>
<path d="M442.80,293.40 L442.80,335.80" fill="none" stroke="#000" stroke-width="2.75" stroke-linejoin="miter"/>
<polygon points="442.80,344.60 438.05,335.30 447.55,335.30" fill="#000"/>
<path d="M497.10,127.30 L711.50,127.30" fill="none" stroke="#000" stroke-width="2.75" stroke-linejoin="miter"/>
<polygon points="720.30,127.30 711.00,132.05 711.00,122.55" fill="#000"/>
<path d="M509.70,196.90 L711.50,196.90" fill="none" stroke="#000" stroke-width="2.75" stroke-linejoin="miter"/>
<polygon points="720.30,196.90 711.00,201.65 711.00,192.15" fill="#000"/>
<path d="M522.70,274.50 L711.50,274.50" fill="none" stroke="#000" stroke-width="2.75" stroke-linejoin="miter"/>
<polygon points="720.30,274.50 711.00,279.25 711.00,269.75" fill="#000"/>
<path d="M543.50,363.90 L724.30,363.90 L724.30,355.80" fill="none" stroke="#000" stroke-width="2.75" stroke-linejoin="miter"/>
<polygon points="724.30,347.00 729.05,356.30 719.55,356.30" fill="#000"/>
<path d="M724.30,302.70 L724.30,269.10" fill="none" stroke="#000" stroke-width="2.75" stroke-linejoin="miter"/>
<polygon points="724.30,260.30 729.05,269.60 719.55,269.60" fill="#000"/>
<path d="M724.30,222.00 L724.30,189.20" fill="none" stroke="#000" stroke-width="2.75" stroke-linejoin="miter"/>
<polygon points="724.30,180.40 729.05,189.70 719.55,189.70" fill="#000"/>
<path d="M724.30,150.60 L724.30,122.10" fill="none" stroke="#000" stroke-width="2.75" stroke-linejoin="miter"/>
<polygon points="724.30,113.30 729.05,122.60 719.55,122.60" fill="#000"/>
<path d="M772.30,89.50 L920.60,189.38" fill="none" stroke="#000" stroke-width="2.75" stroke-linejoin="miter"/>
<polygon points="927.90,194.30 917.53,193.04 922.84,185.17" fill="#000"/>
<path d="M778.00,152.40 L916.59,200.70" fill="none" stroke="#000" stroke-width="2.75" stroke-linejoin="miter"/>
<polygon points="924.90,203.60 914.55,205.02 917.68,196.05" fill="#000"/>
<path d="M790.10,225.80 L916.20,206.72" fill="none" stroke="#000" stroke-width="2.75" stroke-linejoin="miter"/>
<polygon points="924.90,205.40 916.42,211.49 914.99,202.10" fill="#000"/>
<path d="M809.50,310.60 L921.06,220.43" fill="none" stroke="#000" stroke-width="2.75" stroke-linejoin="miter"/>
<polygon points="927.90,214.90 923.65,224.44 917.68,217.05" fill="#000"/>
<circle cx="938.6" cy="204.7" r="12.2" fill="#fff" stroke="#000" stroke-width="2.1"/>
<circle cx="938.6" cy="204.7" r="6.4" fill="#fff" stroke="#000" stroke-width="2.0"/>
<path d="M953.60,205.10 L970.40,205.10" fill="none" stroke="#000" stroke-width="2.75" stroke-linejoin="miter"/>
<polygon points="979.20,205.10 969.90,209.85 969.90,200.35" fill="#000"/>
<path d="M1031.70,174.40 L1070.29,145.12" fill="none" stroke="#000" stroke-width="2.75" stroke-linejoin="miter"/>
<polygon points="1077.30,139.80 1072.76,149.21 1067.02,141.64" fill="#000"/>
<path d="M1031.70,245.20 L1052.21,260.29" fill="none" stroke="#000" stroke-width="2.75" stroke-linejoin="miter"/>
<polygon points="1059.30,265.50 1048.99,263.82 1054.62,256.16" fill="#000"/>
<path d="M1231.20,101.50 L1258.89,87.96" fill="none" stroke="#000" stroke-width="2.75" stroke-linejoin="miter"/>
<polygon points="1266.80,84.10 1260.53,92.45 1256.36,83.92" fill="#000"/>
<path d="M1231.20,121.70 L1258.82,134.50" fill="none" stroke="#000" stroke-width="2.75" stroke-linejoin="miter"/>
<polygon points="1266.80,138.20 1256.36,138.60 1260.36,129.98" fill="#000"/>
<path d="M1097.80,300.80 L1119.81,286.58" fill="none" stroke="#000" stroke-width="2.75" stroke-linejoin="miter"/>
<polygon points="1127.20,281.80 1121.97,290.84 1116.81,282.86" fill="#000"/>
<path d="M1097.80,336.70 L1119.96,352.00" fill="none" stroke="#000" stroke-width="2.75" stroke-linejoin="miter"/>
<polygon points="1127.20,357.00 1116.85,355.62 1122.25,347.81" fill="#000"/>
<path d="M1215.00,286.20 L1241.73,304.44" fill="none" stroke="#000" stroke-width="2.75" stroke-linejoin="miter"/>
<polygon points="1249.00,309.40 1238.64,308.08 1244.00,300.23" fill="#000"/>
<path d="M1220.40,355.90 L1242.37,336.69" fill="none" stroke="#000" stroke-width="2.75" stroke-linejoin="miter"/>
<polygon points="1249.00,330.90 1245.12,340.60 1238.87,333.44" fill="#000"/>
<path d="M1277.6,319.8 L1319.5,319.8" fill="none" stroke="#000" stroke-width="2.75"/>
<path d="M1311.5,313 L1320.5,319.8 L1311.5,326.6" fill="none" stroke="#000" stroke-width="2.6" stroke-linejoin="miter"/>
<circle cx="1259" cy="319.8" r="12.8" fill="none" stroke="#000" stroke-width="2"/>
<path d="M1259,307 V332.6 M1246.2,319.8 H1271.8" stroke="#000" stroke-width="1.6" fill="none"/>
<polygon points="993.7,187.0 1018.2,162.6 1018.2,219.4 993.7,244.6" fill="#7aabd0" stroke="#000" stroke-width="2.25" stroke-linejoin="round"/>
<polygon points="986.2,187.0 993.7,187.0 993.7,244.6 986.2,244.6" fill="#a3d9fb" stroke="#000" stroke-width="2.25" stroke-linejoin="round"/>
<polygon points="986.2,187.0 993.7,187.0 1018.2,162.6 1010.6,162.6" fill="#a3d9fb" stroke="#000" stroke-width="2.25" stroke-linejoin="round"/>
<polygon points="1065.4,303.0 1089.5,278.9 1089.5,336.7 1065.4,360.3" fill="#7aabd0" stroke="#000" stroke-width="2.25" stroke-linejoin="round"/>
<polygon points="1057.8,303.0 1065.4,303.0 1065.4,360.3 1057.8,360.3" fill="#a3d9fb" stroke="#000" stroke-width="2.25" stroke-linejoin="round"/>
<polygon points="1057.8,303.0 1065.4,303.0 1089.5,278.9 1081.8,278.9" fill="#a3d9fb" stroke="#000" stroke-width="2.25" stroke-linejoin="round"/>
<polygon points="1160.9,258.9 1195.3,224.5 1195.3,298.7 1160.9,333.1" fill="#7aabd0" stroke="#000" stroke-width="2.25" stroke-linejoin="round"/>
<polygon points="1153.2,258.9 1160.9,258.9 1160.9,333.1 1153.2,333.1" fill="#a3d9fb" stroke="#000" stroke-width="2.25" stroke-linejoin="round"/>
<polygon points="1153.2,258.9 1160.9,258.9 1195.3,224.5 1187.7,224.5" fill="#a3d9fb" stroke="#000" stroke-width="2.25" stroke-linejoin="round"/>
<polygon points="1197.8,112.2 1206.4,102.9 1206.4,116.3 1197.8,125.6" fill="#7aabd0" stroke="#000" stroke-width="2.2" stroke-linejoin="round"/>
<polygon points="1088.7,112.2 1097.3,102.9 1206.4,102.9 1197.8,112.2" fill="#a3d9fb" stroke="#000" stroke-width="2.2" stroke-linejoin="round"/>
<polygon points="1088.7,112.2 1197.8,112.2 1197.8,125.6 1088.7,125.6" fill="#a3d9fb" stroke="#000" stroke-width="2.2" stroke-linejoin="round"/>
<polygon points="1206.5,362.0 1214.5,352.8 1214.5,367.3 1206.5,376.5" fill="#7aabd0" stroke="#000" stroke-width="2.2" stroke-linejoin="round"/>
<polygon points="1134.7,362.0 1142.7,352.8 1214.5,352.8 1206.5,362.0" fill="#a3d9fb" stroke="#000" stroke-width="2.2" stroke-linejoin="round"/>
<polygon points="1134.7,362.0 1206.5,362.0 1206.5,376.5 1134.7,376.5" fill="#a3d9fb" stroke="#000" stroke-width="2.2" stroke-linejoin="round"/>
<line x1="222.4" y1="298.5" x2="225.7" y2="280.8" stroke="#ff0000" stroke-width="4.5"/>
<line x1="227.8" y1="267.3" x2="231" y2="249.8" stroke="#ff0000" stroke-width="4.5"/>
<line x1="233.2" y1="235.8" x2="238.3" y2="218.6" stroke="#ff0000" stroke-width="4.5"/>
<line x1="242.6" y1="205.5" x2="249.6" y2="189.8" stroke="#ff0000" stroke-width="4.5"/>
<line x1="307.2" y1="142.1" x2="324.9" y2="138.3" stroke="#ff0000" stroke-width="4.5"/>
<line x1="338.8" y1="135.8" x2="356.5" y2="133.3" stroke="#ff0000" stroke-width="4.5"/>
<line x1="370.4" y1="131.5" x2="388.1" y2="130.3" stroke="#ff0000" stroke-width="4.5"/>
<line x1="402" y1="128.9" x2="409" y2="128.3" stroke="#ff0000" stroke-width="4.5"/>
<path d="M256.2,176.8 Q261.5,168.5 268,162.3 M277.6,155 Q285.5,149.8 295,146.6" fill="none" stroke="#ff0000" stroke-width="4.5"/>
<polygon points="422,128.5 408.2,121.8 408.2,135.1" fill="#ff0000"/>
<line x1="226.2" y1="317.7" x2="243.9" y2="317" stroke="#00b050" stroke-width="4.5"/>
<line x1="257.8" y1="316.2" x2="275.5" y2="315.2" stroke="#00b050" stroke-width="4.5"/>
<line x1="290.6" y1="314.2" x2="307.1" y2="312.9" stroke="#00b050" stroke-width="4.5"/>
<line x1="321.1" y1="312.2" x2="339.1" y2="311.1" stroke="#00b050" stroke-width="4.5"/>
<line x1="353" y1="310" x2="371" y2="308.7" stroke="#00b050" stroke-width="4.5"/>
<line x1="384.9" y1="307.4" x2="402.5" y2="306.3" stroke="#00b050" stroke-width="4.5"/>
<line x1="416.7" y1="305.3" x2="434.8" y2="304.2" stroke="#00b050" stroke-width="4.5"/>
<line x1="448.6" y1="303.2" x2="466.7" y2="301.8" stroke="#00b050" stroke-width="4.5"/>
<line x1="480.5" y1="301" x2="498.6" y2="299.8" stroke="#00b050" stroke-width="4.5"/>
<line x1="512.4" y1="299.2" x2="530.1" y2="298.1" stroke="#00b050" stroke-width="4.5"/>
<line x1="544.3" y1="297.2" x2="562" y2="295.7" stroke="#00b050" stroke-width="4.5"/>
<line x1="574.3" y1="290.6" x2="590" y2="281.5" stroke="#00b050" stroke-width="4.5"/>
<line x1="601" y1="272.5" x2="615" y2="259.4" stroke="#00b050" stroke-width="4.5"/>
<line x1="623" y1="249.3" x2="634.8" y2="234.8" stroke="#00b050" stroke-width="4.5"/>
<line x1="642.5" y1="225.5" x2="653.5" y2="210.3" stroke="#00b050" stroke-width="4.5"/>
<line x1="660.2" y1="200.4" x2="671.2" y2="184.1" stroke="#00b050" stroke-width="4.5"/>
<line x1="677.7" y1="174.4" x2="688.3" y2="157.5" stroke="#00b050" stroke-width="4.5"/>
<line x1="694.1" y1="147.8" x2="703.8" y2="130.8" stroke="#00b050" stroke-width="4.5"/>
<line x1="709.6" y1="120" x2="715.8" y2="109.6" stroke="#00b050" stroke-width="4.5"/>
<polygon points="721.9,98 710.1,106.8 721.9,112.7" fill="#00b050"/>
<text x="32.2" y="50.2" font-size="27" letter-spacing="-1.5">(a)</text>
<text x="610.8" y="50.2" font-size="27" letter-spacing="-1.5">(b)</text>
<text x="897.7" y="50.2" font-size="27" letter-spacing="-1.5">(c)</text>
<text x="1057" y="50.2" font-size="27" letter-spacing="-1.5">(d)</text>
<text x="1058.1" y="430.6" font-size="27" letter-spacing="-1.5">(e)</text>
<text x="1291" y="88.8" font-size="27" >class</text>
<text x="1297.4" y="153.4" font-size="27" >box</text>
<text x="1327.7" y="327.3" font-size="27" >mask</text>
<text x="458.5" y="132.1" font-size="27" font-style="italic">P</text>
<text x="472.5" y="137.79999999999998" font-size="19.3">5</text>
<text x="469.5" y="197.4" font-size="27" font-style="italic">P</text>
<text x="483.5" y="203.1" font-size="19.3">4</text>
<text x="487.2" y="267.20000000000005" font-size="27" font-style="italic">P</text>
<text x="501.2" y="272.90000000000003" font-size="19.3">3</text>
<text x="505.6" y="356.20000000000005" font-size="27" font-style="italic">P</text>
<text x="519.6" y="361.90000000000003" font-size="19.3">2</text>
<text x="681.5" y="100.89999999999999" font-size="27" font-style="italic">N</text>
<text x="699.5" y="106.6" font-size="19.3">5</text>
<text x="667.3" y="166.5" font-size="27" font-style="italic">N</text>
<text x="685.3" y="172.2" font-size="19.3">4</text>
<text x="656.2" y="239.2" font-size="27" font-style="italic">N</text>
<text x="674.2" y="244.89999999999998" font-size="19.3">3</text>
<text x="636" y="325.8" font-size="27" font-style="italic">N</text>
<text x="654" y="331.5" font-size="19.3">2</text>
</svg>
</body></html>
